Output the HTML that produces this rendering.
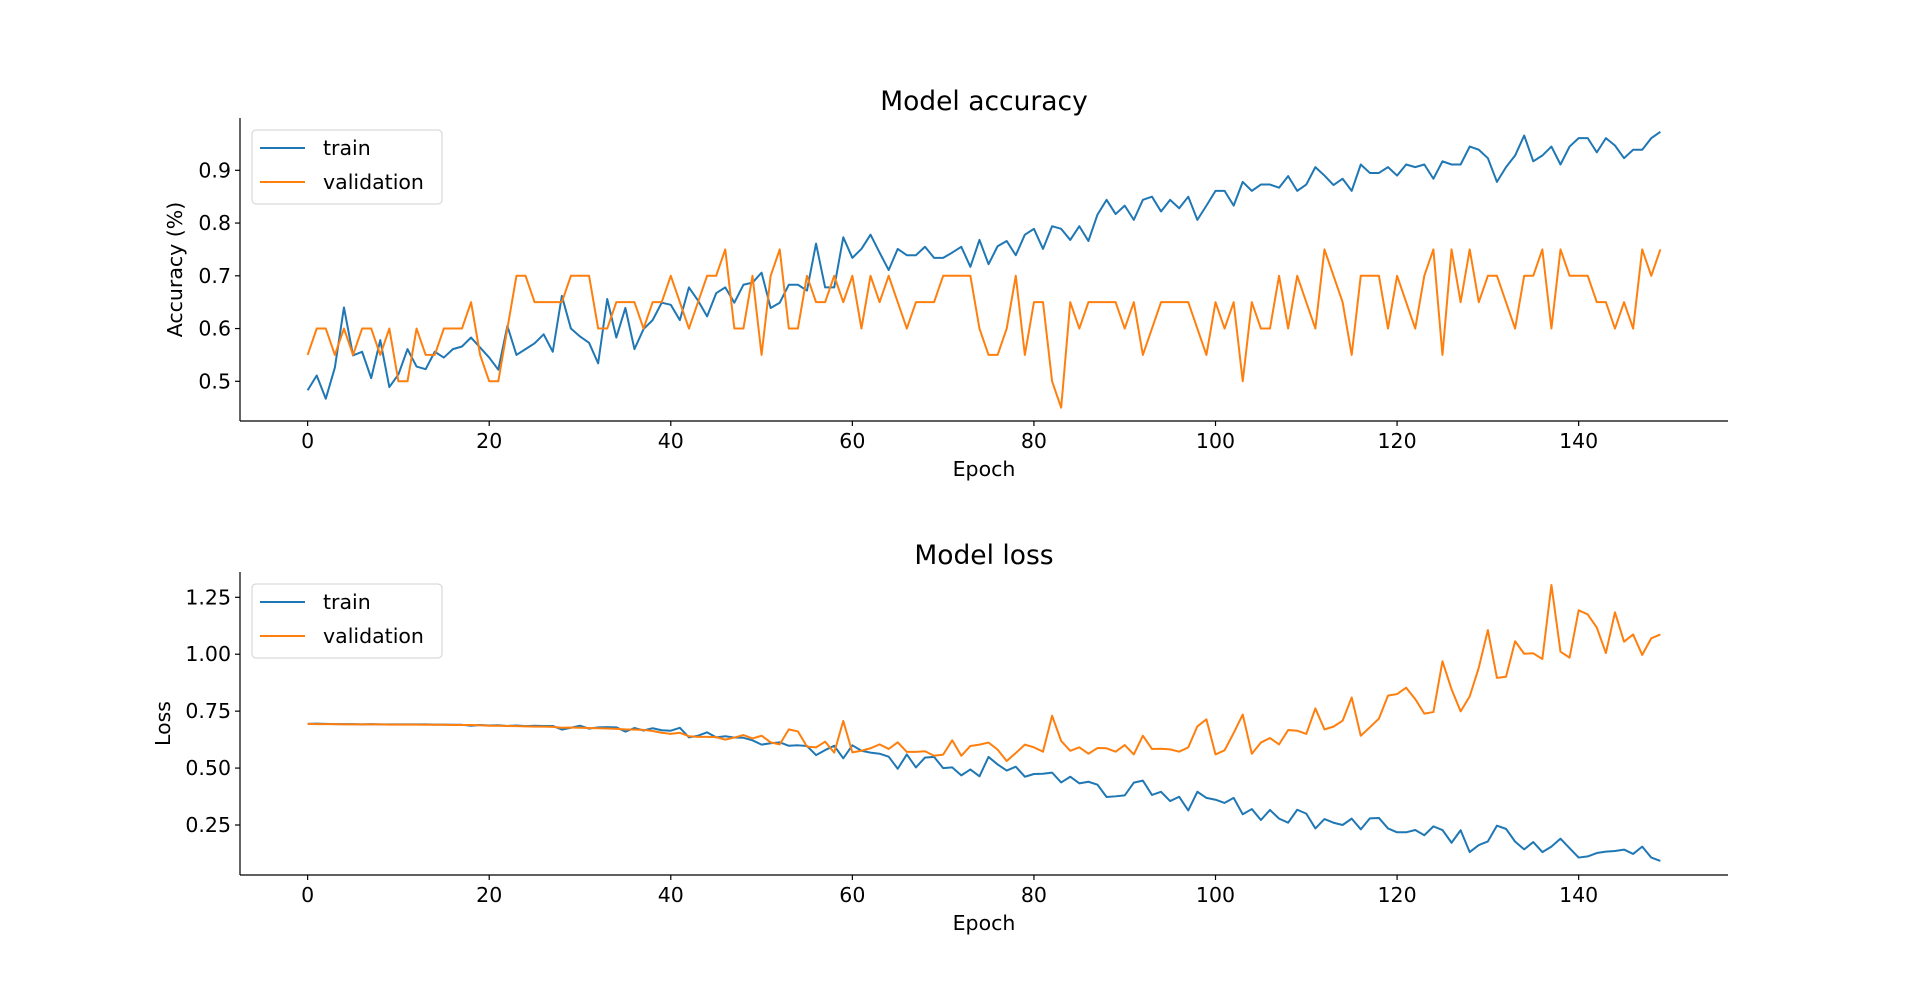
<!DOCTYPE html>
<html><head><meta charset="utf-8"><style>
html,body{margin:0;padding:0;background:#fff;}
svg{display:block;font-family:"DejaVu Sans","Liberation Sans",sans-serif;}
</style></head><body>
<svg id="fig" width="1920" height="983" viewBox="0 0 1920 983"></svg>
<script>
const epochs = Array.from({length:150},(_, i)=>i);
const accTrain = [0.483,0.511,0.467,0.526,0.64,0.549,0.556,0.506,0.578,0.489,0.513,0.561,0.528,0.523,0.556,0.545,0.561,0.566,0.583,0.564,0.545,0.522,0.605,0.55,0.561,0.572,0.589,0.556,0.662,0.6,0.585,0.573,0.534,0.656,0.583,0.639,0.561,0.599,0.616,0.649,0.645,0.616,0.678,0.653,0.623,0.667,0.678,0.649,0.683,0.687,0.706,0.639,0.649,0.683,0.683,0.672,0.761,0.678,0.678,0.773,0.734,0.751,0.778,0.744,0.711,0.751,0.739,0.739,0.755,0.734,0.734,0.744,0.755,0.717,0.768,0.722,0.756,0.766,0.739,0.778,0.789,0.751,0.794,0.789,0.768,0.794,0.766,0.816,0.844,0.817,0.833,0.806,0.844,0.85,0.822,0.844,0.828,0.85,0.806,0.833,0.861,0.861,0.833,0.878,0.861,0.873,0.873,0.867,0.889,0.861,0.873,0.906,0.89,0.872,0.884,0.861,0.911,0.895,0.895,0.906,0.89,0.911,0.906,0.911,0.884,0.917,0.911,0.911,0.945,0.939,0.923,0.878,0.906,0.928,0.966,0.917,0.928,0.945,0.911,0.945,0.961,0.961,0.934,0.961,0.947,0.923,0.939,0.939,0.961,0.973];
const accVal = [0.55,0.6,0.6,0.55,0.6,0.55,0.6,0.6,0.55,0.6,0.5,0.5,0.6,0.55,0.55,0.6,0.6,0.6,0.65,0.55,0.5,0.5,0.6,0.7,0.7,0.65,0.65,0.65,0.65,0.7,0.7,0.7,0.6,0.6,0.65,0.65,0.65,0.6,0.65,0.65,0.7,0.65,0.6,0.65,0.7,0.7,0.75,0.6,0.6,0.7,0.55,0.7,0.75,0.6,0.6,0.7,0.65,0.65,0.7,0.65,0.7,0.6,0.7,0.65,0.7,0.65,0.6,0.65,0.65,0.65,0.7,0.7,0.7,0.7,0.6,0.55,0.55,0.6,0.7,0.55,0.65,0.65,0.5,0.45,0.65,0.6,0.65,0.65,0.65,0.65,0.6,0.65,0.55,0.6,0.65,0.65,0.65,0.65,0.6,0.55,0.65,0.6,0.65,0.5,0.65,0.6,0.6,0.7,0.6,0.7,0.65,0.6,0.75,0.7,0.65,0.55,0.7,0.7,0.7,0.6,0.7,0.65,0.6,0.7,0.75,0.55,0.75,0.65,0.75,0.65,0.7,0.7,0.65,0.6,0.7,0.7,0.75,0.6,0.75,0.7,0.7,0.7,0.65,0.65,0.6,0.65,0.6,0.75,0.7,0.75];
const lossTrain = [0.694,0.695,0.694,0.693,0.693,0.693,0.692,0.693,0.692,0.692,0.692,0.692,0.692,0.692,0.691,0.691,0.69,0.69,0.686,0.689,0.687,0.688,0.685,0.687,0.684,0.686,0.685,0.685,0.669,0.677,0.686,0.673,0.679,0.68,0.679,0.66,0.676,0.665,0.675,0.666,0.664,0.677,0.635,0.642,0.657,0.635,0.64,0.634,0.633,0.622,0.603,0.609,0.613,0.598,0.6,0.597,0.557,0.579,0.598,0.543,0.6,0.576,0.568,0.563,0.55,0.497,0.56,0.503,0.546,0.549,0.5,0.503,0.468,0.494,0.464,0.549,0.516,0.489,0.506,0.462,0.474,0.475,0.48,0.437,0.462,0.433,0.44,0.427,0.373,0.376,0.38,0.436,0.445,0.382,0.396,0.355,0.374,0.314,0.396,0.369,0.361,0.347,0.369,0.297,0.32,0.272,0.316,0.278,0.26,0.317,0.3,0.235,0.276,0.26,0.25,0.278,0.231,0.279,0.281,0.235,0.218,0.218,0.228,0.205,0.244,0.228,0.172,0.227,0.131,0.162,0.178,0.247,0.233,0.177,0.143,0.175,0.131,0.155,0.19,0.148,0.107,0.112,0.127,0.133,0.136,0.142,0.123,0.155,0.107,0.092];
const lossVal = [0.694,0.693,0.693,0.693,0.692,0.692,0.692,0.692,0.692,0.691,0.691,0.691,0.691,0.69,0.69,0.69,0.689,0.689,0.689,0.688,0.686,0.686,0.685,0.684,0.683,0.682,0.682,0.681,0.677,0.678,0.677,0.676,0.675,0.674,0.672,0.67,0.669,0.668,0.663,0.655,0.65,0.655,0.64,0.637,0.637,0.636,0.625,0.634,0.645,0.63,0.642,0.613,0.604,0.67,0.661,0.594,0.591,0.616,0.568,0.707,0.569,0.576,0.587,0.604,0.584,0.613,0.571,0.571,0.574,0.554,0.559,0.622,0.554,0.597,0.603,0.612,0.581,0.531,0.566,0.603,0.591,0.572,0.73,0.619,0.576,0.591,0.563,0.588,0.587,0.572,0.601,0.56,0.642,0.584,0.585,0.582,0.572,0.591,0.683,0.714,0.56,0.578,0.654,0.735,0.563,0.612,0.632,0.604,0.667,0.664,0.65,0.762,0.67,0.682,0.708,0.81,0.642,0.679,0.717,0.818,0.825,0.853,0.803,0.739,0.746,0.969,0.846,0.749,0.815,0.941,1.106,0.896,0.901,1.057,1.002,1.004,0.979,1.304,1.011,0.985,1.193,1.175,1.117,1.005,1.184,1.055,1.087,0.997,1.07,1.087];
const xTicks = [0,20,40,60,80,100,120,140];
const accTicks = [0.5,0.6,0.7,0.8,0.9];
const accTickLabels = ["0.5","0.6","0.7","0.8","0.9"];
const lossTicks = [0.25,0.5,0.75,1.0,1.25];
const lossTickLabels = ["0.25","0.50","0.75","1.00","1.25"];

const NS = "http://www.w3.org/2000/svg";
const svg = document.getElementById('fig');
const C_TRAIN = '#1f77b4', C_VAL = '#ff7f0e';
function mk(tag, attrs, parent){ const e=document.createElementNS(NS,tag); for(const k in attrs) e.setAttribute(k,attrs[k]); (parent||svg).appendChild(e); return e; }
const X0=240, X1=1728;
function xScale(e){ return X0 + (e + 7.45) / 163.9 * (X1 - X0); }

function panel(cfg){
  const g = mk('g',{});
  
  
  const yS = v => cfg.yRef - (v - cfg.vRef) * cfg.pxPer;
  const t = mk('text',{x:(X0+X1)/2,y:cfg.top-8,'text-anchor':'middle','font-size':'26.5',fill:'#000'},g);
  t.textContent = cfg.title;
  
  
  [[cfg.train,C_TRAIN,'train'],[cfg.val,C_VAL,'validation']].forEach(([arr,col,nm])=>{
    const pts = arr.map((v,i)=>xScale(epochs[i]).toFixed(2)+','+yS(v).toFixed(2)).join(' ');
    const pl = mk('polyline',{points:pts,fill:'none',stroke:col,'stroke-width':'2','stroke-linejoin':'round'},g);
    
    
  });
  const ls = mk('line',{x1:X0,y1:cfg.top,x2:X0,y2:cfg.bottom,stroke:'#000','stroke-width':'1.2'},g);
  
  
  const bs = mk('line',{x1:X0,y1:cfg.bottom,x2:X1,y2:cfg.bottom,stroke:'#000','stroke-width':'1.2'},g);
  
  
  xTicks.forEach(v=>{
    const x=xScale(v);
    mk('line',{x1:x,y1:cfg.bottom,x2:x,y2:cfg.bottom+5,stroke:'#000','stroke-width':'1.2'},g);
    const tl = mk('text',{x:x,y:cfg.bottom+27,'text-anchor':'middle','font-size':'20.5',fill:'#000'},g);
    tl.textContent = String(v);
    
    
  });
  cfg.ticks.forEach((v,i)=>{
    const y=yS(v);
    mk('line',{x1:X0-5,y1:y,x2:X0,y2:y,stroke:'#000','stroke-width':'1.2'},g);
    const tl = mk('text',{x:X0-9,y:y+7,'text-anchor':'end','font-size':'20.5',fill:'#000'},g);
    tl.textContent = cfg.tickLabels[i];
    
    
  });
  const xl = mk('text',{x:(X0+X1)/2,y:cfg.bottom+55,'text-anchor':'middle','font-size':'20.5',fill:'#000'},g);
  xl.textContent='Epoch';
  
  
  const my=(cfg.top+cfg.bottom)/2;
  const yl = mk('text',{x:cfg.ylx,y:my,'text-anchor':'middle','font-size':'20.5',fill:'#000',transform:`rotate(-90 ${cfg.ylx} ${my})`},g);
  yl.textContent=cfg.ylabel;
  
  
  const lg = mk('g',{},g);
  
  
  mk('rect',{x:252,y:cfg.legTop,width:190,height:74,rx:4,fill:'#fff','fill-opacity':'0.8',stroke:'#d0d0d0','stroke-width':'1'},lg);
  [['train',C_TRAIN,18],['validation',C_VAL,52]].forEach(([nm,col,dy])=>{
    const e = mk('g',{},lg);
    
    
    mk('line',{x1:260,y1:cfg.legTop+dy,x2:305,y2:cfg.legTop+dy,stroke:col,'stroke-width':'2'},e);
    const tx = mk('text',{x:323,y:cfg.legTop+dy+7,'font-size':'20.5',fill:'#000'},e);
    tx.textContent=nm;
  });
}
panel({name:'accuracy-chart',title:'Model accuracy',top:118,bottom:421,yRef:381.3,vRef:0.5,pxPer:527.5,
  train:accTrain,val:accVal,ticks:accTicks,tickLabels:accTickLabels,ylabel:'Accuracy (%)',ylx:182,legTop:130});
panel({name:'loss-chart',title:'Model loss',top:572,bottom:875,yRef:825,vRef:0.25,pxPer:227.7,
  train:lossTrain,val:lossVal,ticks:lossTicks,tickLabels:lossTickLabels,ylabel:'Loss',ylx:170,legTop:584});
</script>
</body></html>
